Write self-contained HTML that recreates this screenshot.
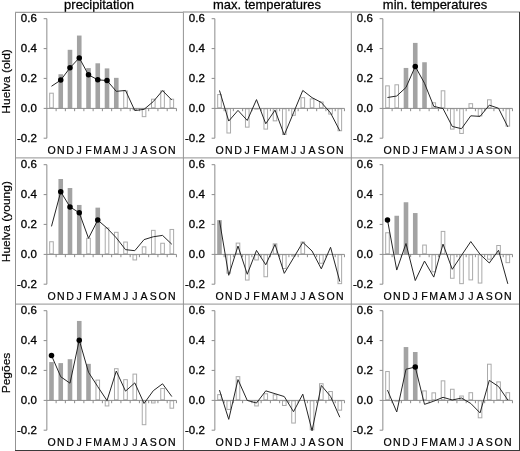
<!DOCTYPE html><html><head><meta charset="utf-8"><style>html,body{margin:0;padding:0;background:#fff;}svg{display:block;will-change:transform;}</style></head><body>
<svg width="520" height="451" viewBox="0 0 520 451" font-family='"Liberation Sans", sans-serif'>
<text transform="translate(99.0,9.4) scale(1.08,1)" font-size="12" text-anchor="middle" fill="#000" stroke="#000" stroke-width="0.25">precipitation</text>
<text transform="translate(267.0,9.4) scale(1.08,1)" font-size="12" text-anchor="middle" fill="#000" stroke="#000" stroke-width="0.25">max. temperatures</text>
<text transform="translate(435.0,9.4) scale(1.08,1)" font-size="12" text-anchor="middle" fill="#000" stroke="#000" stroke-width="0.25">min. temperatures</text>
<text transform="translate(10.3,81.4) rotate(-90) scale(1.07,1)" font-size="11.2" text-anchor="middle" fill="#000" stroke="#000" stroke-width="0.2">Huelva (old)</text>
<text transform="translate(10.3,221.7) rotate(-90) scale(1.07,1)" font-size="11.2" text-anchor="middle" fill="#000" stroke="#000" stroke-width="0.2">Huelva (young)</text>
<text transform="translate(10.3,373.0) rotate(-90) scale(1.07,1)" font-size="11.2" text-anchor="middle" fill="#000" stroke="#000" stroke-width="0.2">Pegões</text>
<g><path d="M46.85 18.70V138.20" stroke="#8c8c8c" stroke-width="1" fill="none"/><path d="M43.65 18.70H46.85" stroke="#8c8c8c" stroke-width="1"/><text transform="translate(36.8,22.1) scale(1.03,1)" font-size="11.2" text-anchor="end" fill="#000" stroke="#000" stroke-width="0.3">0.6</text><path d="M43.65 48.60H46.85" stroke="#8c8c8c" stroke-width="1"/><text transform="translate(36.8,52.0) scale(1.03,1)" font-size="11.2" text-anchor="end" fill="#000" stroke="#000" stroke-width="0.3">0.4</text><path d="M43.65 78.40H46.85" stroke="#8c8c8c" stroke-width="1"/><text transform="translate(36.8,81.8) scale(1.03,1)" font-size="11.2" text-anchor="end" fill="#000" stroke="#000" stroke-width="0.3">0.2</text><path d="M43.65 108.40H46.85" stroke="#8c8c8c" stroke-width="1"/><text transform="translate(36.8,111.8) scale(1.03,1)" font-size="11.2" text-anchor="end" fill="#000" stroke="#000" stroke-width="0.3">0.0</text><path d="M43.65 138.20H46.85" stroke="#8c8c8c" stroke-width="1"/><text transform="translate(36.8,141.6) scale(1.03,1)" font-size="11.2" text-anchor="end" fill="#000" stroke="#000" stroke-width="0.3">-0.2</text><rect x="49.68" y="93.20" width="3.60" height="14.60" fill="#fff" stroke="#aaaaaa" stroke-width="1"/><rect x="58.44" y="74.25" width="4.60" height="34.05" fill="#a3a3a3"/><rect x="67.69" y="49.80" width="4.60" height="58.50" fill="#a3a3a3"/><rect x="76.95" y="35.55" width="4.60" height="72.75" fill="#a3a3a3"/><rect x="86.21" y="68.10" width="4.60" height="40.20" fill="#a3a3a3"/><rect x="95.46" y="63.30" width="4.60" height="45.00" fill="#a3a3a3"/><rect x="104.72" y="68.40" width="4.60" height="39.90" fill="#a3a3a3"/><rect x="113.98" y="77.85" width="4.60" height="30.45" fill="#a3a3a3"/><rect x="123.73" y="90.95" width="3.60" height="16.85" fill="#fff" stroke="#aaaaaa" stroke-width="1"/><rect x="132.99" y="108.80" width="3.60" height="0.95" fill="#fff" stroke="#aaaaaa" stroke-width="1"/><rect x="142.25" y="108.80" width="3.60" height="7.85" fill="#fff" stroke="#aaaaaa" stroke-width="1"/><rect x="151.51" y="99.20" width="3.60" height="8.60" fill="#fff" stroke="#aaaaaa" stroke-width="1"/><rect x="160.76" y="90.80" width="3.60" height="17.00" fill="#fff" stroke="#aaaaaa" stroke-width="1"/><rect x="170.02" y="99.20" width="3.60" height="8.60" fill="#fff" stroke="#aaaaaa" stroke-width="1"/><path d="M46.85 108.40H176.45" stroke="#8c8c8c" stroke-width="1"/><path d="M56.11 108.40V111.20" stroke="#8c8c8c" stroke-width="1"/><path d="M65.36 108.40V111.20" stroke="#8c8c8c" stroke-width="1"/><path d="M74.62 108.40V111.20" stroke="#8c8c8c" stroke-width="1"/><path d="M83.88 108.40V111.20" stroke="#8c8c8c" stroke-width="1"/><path d="M93.13 108.40V111.20" stroke="#8c8c8c" stroke-width="1"/><path d="M102.39 108.40V111.20" stroke="#8c8c8c" stroke-width="1"/><path d="M111.65 108.40V111.20" stroke="#8c8c8c" stroke-width="1"/><path d="M120.91 108.40V111.20" stroke="#8c8c8c" stroke-width="1"/><path d="M130.16 108.40V111.20" stroke="#8c8c8c" stroke-width="1"/><path d="M139.42 108.40V111.20" stroke="#8c8c8c" stroke-width="1"/><path d="M148.68 108.40V111.20" stroke="#8c8c8c" stroke-width="1"/><path d="M157.93 108.40V111.20" stroke="#8c8c8c" stroke-width="1"/><path d="M167.19 108.40V111.20" stroke="#8c8c8c" stroke-width="1"/><path d="M176.45 108.40V111.20" stroke="#8c8c8c" stroke-width="1"/><polyline points="51.48,86.25 60.74,80.10 69.99,67.80 79.25,57.90 88.51,74.85 97.76,79.80 107.02,80.55 116.28,91.35 125.53,90.45 134.79,110.55 144.05,109.35 153.31,101.55 162.56,90.60 171.82,100.05" fill="none" stroke="#262626" stroke-width="1.0" stroke-linejoin="round"/><circle cx="60.74" cy="80.10" r="2.75" fill="#000"/><circle cx="69.99" cy="67.80" r="2.75" fill="#000"/><circle cx="79.25" cy="57.90" r="2.75" fill="#000"/><circle cx="88.51" cy="74.85" r="2.75" fill="#000"/><circle cx="97.76" cy="79.80" r="2.75" fill="#000"/><circle cx="107.02" cy="80.55" r="2.75" fill="#000"/><text transform="translate(51.48,153.8) scale(1.035,1)" font-size="10.2" text-anchor="middle" fill="#000" stroke="#000" stroke-width="0.2">O</text><text transform="translate(60.74,153.8) scale(1.035,1)" font-size="10.2" text-anchor="middle" fill="#000" stroke="#000" stroke-width="0.2">N</text><text transform="translate(69.99,153.8) scale(1.035,1)" font-size="10.2" text-anchor="middle" fill="#000" stroke="#000" stroke-width="0.2">D</text><text transform="translate(79.25,153.8) scale(1.035,1)" font-size="10.2" text-anchor="middle" fill="#000" stroke="#000" stroke-width="0.2">J</text><text transform="translate(88.51,153.8) scale(1.035,1)" font-size="10.2" text-anchor="middle" fill="#000" stroke="#000" stroke-width="0.2">F</text><text transform="translate(97.76,153.8) scale(1.035,1)" font-size="10.2" text-anchor="middle" fill="#000" stroke="#000" stroke-width="0.2">M</text><text transform="translate(107.02,153.8) scale(1.035,1)" font-size="10.2" text-anchor="middle" fill="#000" stroke="#000" stroke-width="0.2">A</text><text transform="translate(116.28,153.8) scale(1.035,1)" font-size="10.2" text-anchor="middle" fill="#000" stroke="#000" stroke-width="0.2">M</text><text transform="translate(125.53,153.8) scale(1.035,1)" font-size="10.2" text-anchor="middle" fill="#000" stroke="#000" stroke-width="0.2">J</text><text transform="translate(134.79,153.8) scale(1.035,1)" font-size="10.2" text-anchor="middle" fill="#000" stroke="#000" stroke-width="0.2">J</text><text transform="translate(144.05,153.8) scale(1.035,1)" font-size="10.2" text-anchor="middle" fill="#000" stroke="#000" stroke-width="0.2">A</text><text transform="translate(153.31,153.8) scale(1.035,1)" font-size="10.2" text-anchor="middle" fill="#000" stroke="#000" stroke-width="0.2">S</text><text transform="translate(162.56,153.8) scale(1.035,1)" font-size="10.2" text-anchor="middle" fill="#000" stroke="#000" stroke-width="0.2">O</text><text transform="translate(171.82,153.8) scale(1.035,1)" font-size="10.2" text-anchor="middle" fill="#000" stroke="#000" stroke-width="0.2">N</text></g>
<g><path d="M214.85 18.70V138.20" stroke="#8c8c8c" stroke-width="1" fill="none"/><path d="M211.65 18.70H214.85" stroke="#8c8c8c" stroke-width="1"/><text transform="translate(204.8,22.1) scale(1.03,1)" font-size="11.2" text-anchor="end" fill="#000" stroke="#000" stroke-width="0.3">0.6</text><path d="M211.65 48.60H214.85" stroke="#8c8c8c" stroke-width="1"/><text transform="translate(204.8,52.0) scale(1.03,1)" font-size="11.2" text-anchor="end" fill="#000" stroke="#000" stroke-width="0.3">0.4</text><path d="M211.65 78.40H214.85" stroke="#8c8c8c" stroke-width="1"/><text transform="translate(204.8,81.8) scale(1.03,1)" font-size="11.2" text-anchor="end" fill="#000" stroke="#000" stroke-width="0.3">0.2</text><path d="M211.65 108.40H214.85" stroke="#8c8c8c" stroke-width="1"/><text transform="translate(204.8,111.8) scale(1.03,1)" font-size="11.2" text-anchor="end" fill="#000" stroke="#000" stroke-width="0.3">0.0</text><path d="M211.65 138.20H214.85" stroke="#8c8c8c" stroke-width="1"/><text transform="translate(204.8,141.6) scale(1.03,1)" font-size="11.2" text-anchor="end" fill="#000" stroke="#000" stroke-width="0.3">-0.2</text><rect x="217.68" y="94.55" width="3.60" height="13.25" fill="#fff" stroke="#aaaaaa" stroke-width="1"/><rect x="226.94" y="108.80" width="3.60" height="24.20" fill="#fff" stroke="#aaaaaa" stroke-width="1"/><rect x="245.45" y="108.80" width="3.60" height="18.35" fill="#fff" stroke="#aaaaaa" stroke-width="1"/><rect x="254.71" y="108.80" width="3.60" height="0.30" fill="#fff" stroke="#aaaaaa" stroke-width="1"/><rect x="263.96" y="108.80" width="3.60" height="20.30" fill="#fff" stroke="#aaaaaa" stroke-width="1"/><rect x="273.22" y="108.80" width="3.60" height="12.05" fill="#fff" stroke="#aaaaaa" stroke-width="1"/><rect x="282.48" y="108.80" width="3.60" height="25.70" fill="#fff" stroke="#aaaaaa" stroke-width="1"/><rect x="291.73" y="108.80" width="3.60" height="6.50" fill="#fff" stroke="#aaaaaa" stroke-width="1"/><rect x="300.99" y="97.70" width="3.60" height="10.10" fill="#fff" stroke="#aaaaaa" stroke-width="1"/><rect x="310.25" y="98.90" width="3.60" height="8.90" fill="#fff" stroke="#aaaaaa" stroke-width="1"/><rect x="319.51" y="102.05" width="3.60" height="5.75" fill="#fff" stroke="#aaaaaa" stroke-width="1"/><rect x="328.76" y="108.80" width="3.60" height="5.30" fill="#fff" stroke="#aaaaaa" stroke-width="1"/><rect x="338.02" y="108.80" width="3.60" height="21.95" fill="#fff" stroke="#aaaaaa" stroke-width="1"/><path d="M214.85 108.40H344.45" stroke="#8c8c8c" stroke-width="1"/><path d="M224.11 108.40V111.20" stroke="#8c8c8c" stroke-width="1"/><path d="M233.36 108.40V111.20" stroke="#8c8c8c" stroke-width="1"/><path d="M242.62 108.40V111.20" stroke="#8c8c8c" stroke-width="1"/><path d="M251.88 108.40V111.20" stroke="#8c8c8c" stroke-width="1"/><path d="M261.13 108.40V111.20" stroke="#8c8c8c" stroke-width="1"/><path d="M270.39 108.40V111.20" stroke="#8c8c8c" stroke-width="1"/><path d="M279.65 108.40V111.20" stroke="#8c8c8c" stroke-width="1"/><path d="M288.91 108.40V111.20" stroke="#8c8c8c" stroke-width="1"/><path d="M298.16 108.40V111.20" stroke="#8c8c8c" stroke-width="1"/><path d="M307.42 108.40V111.20" stroke="#8c8c8c" stroke-width="1"/><path d="M316.68 108.40V111.20" stroke="#8c8c8c" stroke-width="1"/><path d="M325.93 108.40V111.20" stroke="#8c8c8c" stroke-width="1"/><path d="M335.19 108.40V111.20" stroke="#8c8c8c" stroke-width="1"/><path d="M344.45 108.40V111.20" stroke="#8c8c8c" stroke-width="1"/><polyline points="219.48,90.45 228.74,121.05 237.99,110.40 247.25,120.45 256.51,99.60 265.76,123.75 275.02,110.10 284.28,135.00 293.53,112.80 302.79,90.45 312.05,97.65 321.31,102.45 330.56,112.95 339.82,130.80" fill="none" stroke="#262626" stroke-width="1.0" stroke-linejoin="round"/><text transform="translate(219.48,153.8) scale(1.035,1)" font-size="10.2" text-anchor="middle" fill="#000" stroke="#000" stroke-width="0.2">O</text><text transform="translate(228.74,153.8) scale(1.035,1)" font-size="10.2" text-anchor="middle" fill="#000" stroke="#000" stroke-width="0.2">N</text><text transform="translate(237.99,153.8) scale(1.035,1)" font-size="10.2" text-anchor="middle" fill="#000" stroke="#000" stroke-width="0.2">D</text><text transform="translate(247.25,153.8) scale(1.035,1)" font-size="10.2" text-anchor="middle" fill="#000" stroke="#000" stroke-width="0.2">J</text><text transform="translate(256.51,153.8) scale(1.035,1)" font-size="10.2" text-anchor="middle" fill="#000" stroke="#000" stroke-width="0.2">F</text><text transform="translate(265.76,153.8) scale(1.035,1)" font-size="10.2" text-anchor="middle" fill="#000" stroke="#000" stroke-width="0.2">M</text><text transform="translate(275.02,153.8) scale(1.035,1)" font-size="10.2" text-anchor="middle" fill="#000" stroke="#000" stroke-width="0.2">A</text><text transform="translate(284.28,153.8) scale(1.035,1)" font-size="10.2" text-anchor="middle" fill="#000" stroke="#000" stroke-width="0.2">M</text><text transform="translate(293.53,153.8) scale(1.035,1)" font-size="10.2" text-anchor="middle" fill="#000" stroke="#000" stroke-width="0.2">J</text><text transform="translate(302.79,153.8) scale(1.035,1)" font-size="10.2" text-anchor="middle" fill="#000" stroke="#000" stroke-width="0.2">J</text><text transform="translate(312.05,153.8) scale(1.035,1)" font-size="10.2" text-anchor="middle" fill="#000" stroke="#000" stroke-width="0.2">A</text><text transform="translate(321.31,153.8) scale(1.035,1)" font-size="10.2" text-anchor="middle" fill="#000" stroke="#000" stroke-width="0.2">S</text><text transform="translate(330.56,153.8) scale(1.035,1)" font-size="10.2" text-anchor="middle" fill="#000" stroke="#000" stroke-width="0.2">O</text><text transform="translate(339.82,153.8) scale(1.035,1)" font-size="10.2" text-anchor="middle" fill="#000" stroke="#000" stroke-width="0.2">N</text></g>
<g><path d="M382.85 18.70V138.20" stroke="#8c8c8c" stroke-width="1" fill="none"/><path d="M379.65 18.70H382.85" stroke="#8c8c8c" stroke-width="1"/><text transform="translate(372.8,22.1) scale(1.03,1)" font-size="11.2" text-anchor="end" fill="#000" stroke="#000" stroke-width="0.3">0.6</text><path d="M379.65 48.60H382.85" stroke="#8c8c8c" stroke-width="1"/><text transform="translate(372.8,52.0) scale(1.03,1)" font-size="11.2" text-anchor="end" fill="#000" stroke="#000" stroke-width="0.3">0.4</text><path d="M379.65 78.40H382.85" stroke="#8c8c8c" stroke-width="1"/><text transform="translate(372.8,81.8) scale(1.03,1)" font-size="11.2" text-anchor="end" fill="#000" stroke="#000" stroke-width="0.3">0.2</text><path d="M379.65 108.40H382.85" stroke="#8c8c8c" stroke-width="1"/><text transform="translate(372.8,111.8) scale(1.03,1)" font-size="11.2" text-anchor="end" fill="#000" stroke="#000" stroke-width="0.3">0.0</text><path d="M379.65 138.20H382.85" stroke="#8c8c8c" stroke-width="1"/><text transform="translate(372.8,141.6) scale(1.03,1)" font-size="11.2" text-anchor="end" fill="#000" stroke="#000" stroke-width="0.3">-0.2</text><rect x="385.68" y="85.85" width="3.60" height="21.95" fill="#fff" stroke="#aaaaaa" stroke-width="1"/><rect x="394.94" y="84.80" width="3.60" height="23.00" fill="#fff" stroke="#aaaaaa" stroke-width="1"/><rect x="403.69" y="67.95" width="4.60" height="40.35" fill="#a3a3a3"/><rect x="412.95" y="42.90" width="4.60" height="65.40" fill="#a3a3a3"/><rect x="422.21" y="62.25" width="4.60" height="46.05" fill="#a3a3a3"/><rect x="431.96" y="102.80" width="3.60" height="5.00" fill="#fff" stroke="#aaaaaa" stroke-width="1"/><rect x="441.22" y="90.80" width="3.60" height="17.00" fill="#fff" stroke="#aaaaaa" stroke-width="1"/><rect x="450.48" y="108.80" width="3.60" height="20.30" fill="#fff" stroke="#aaaaaa" stroke-width="1"/><rect x="459.73" y="108.80" width="3.60" height="24.65" fill="#fff" stroke="#aaaaaa" stroke-width="1"/><rect x="468.99" y="103.70" width="3.60" height="4.10" fill="#fff" stroke="#aaaaaa" stroke-width="1"/><rect x="478.25" y="108.80" width="3.60" height="7.10" fill="#fff" stroke="#aaaaaa" stroke-width="1"/><rect x="487.51" y="99.80" width="3.60" height="8.00" fill="#fff" stroke="#aaaaaa" stroke-width="1"/><rect x="506.02" y="108.80" width="3.60" height="17.30" fill="#fff" stroke="#aaaaaa" stroke-width="1"/><path d="M382.85 108.40H512.45" stroke="#8c8c8c" stroke-width="1"/><path d="M392.11 108.40V111.20" stroke="#8c8c8c" stroke-width="1"/><path d="M401.36 108.40V111.20" stroke="#8c8c8c" stroke-width="1"/><path d="M410.62 108.40V111.20" stroke="#8c8c8c" stroke-width="1"/><path d="M419.88 108.40V111.20" stroke="#8c8c8c" stroke-width="1"/><path d="M429.13 108.40V111.20" stroke="#8c8c8c" stroke-width="1"/><path d="M438.39 108.40V111.20" stroke="#8c8c8c" stroke-width="1"/><path d="M447.65 108.40V111.20" stroke="#8c8c8c" stroke-width="1"/><path d="M456.91 108.40V111.20" stroke="#8c8c8c" stroke-width="1"/><path d="M466.16 108.40V111.20" stroke="#8c8c8c" stroke-width="1"/><path d="M475.42 108.40V111.20" stroke="#8c8c8c" stroke-width="1"/><path d="M484.68 108.40V111.20" stroke="#8c8c8c" stroke-width="1"/><path d="M493.93 108.40V111.20" stroke="#8c8c8c" stroke-width="1"/><path d="M503.19 108.40V111.20" stroke="#8c8c8c" stroke-width="1"/><path d="M512.45 108.40V111.20" stroke="#8c8c8c" stroke-width="1"/><polyline points="387.48,97.50 396.74,96.00 405.99,87.45 415.25,66.45 424.51,83.25 433.76,106.35 443.02,108.60 452.28,126.45 461.53,128.70 470.79,115.80 480.05,116.40 489.31,105.15 498.56,108.30 507.82,126.90" fill="none" stroke="#262626" stroke-width="1.0" stroke-linejoin="round"/><circle cx="415.25" cy="66.45" r="2.75" fill="#000"/><text transform="translate(387.48,153.8) scale(1.035,1)" font-size="10.2" text-anchor="middle" fill="#000" stroke="#000" stroke-width="0.2">O</text><text transform="translate(396.74,153.8) scale(1.035,1)" font-size="10.2" text-anchor="middle" fill="#000" stroke="#000" stroke-width="0.2">N</text><text transform="translate(405.99,153.8) scale(1.035,1)" font-size="10.2" text-anchor="middle" fill="#000" stroke="#000" stroke-width="0.2">D</text><text transform="translate(415.25,153.8) scale(1.035,1)" font-size="10.2" text-anchor="middle" fill="#000" stroke="#000" stroke-width="0.2">J</text><text transform="translate(424.51,153.8) scale(1.035,1)" font-size="10.2" text-anchor="middle" fill="#000" stroke="#000" stroke-width="0.2">F</text><text transform="translate(433.76,153.8) scale(1.035,1)" font-size="10.2" text-anchor="middle" fill="#000" stroke="#000" stroke-width="0.2">M</text><text transform="translate(443.02,153.8) scale(1.035,1)" font-size="10.2" text-anchor="middle" fill="#000" stroke="#000" stroke-width="0.2">A</text><text transform="translate(452.28,153.8) scale(1.035,1)" font-size="10.2" text-anchor="middle" fill="#000" stroke="#000" stroke-width="0.2">M</text><text transform="translate(461.53,153.8) scale(1.035,1)" font-size="10.2" text-anchor="middle" fill="#000" stroke="#000" stroke-width="0.2">J</text><text transform="translate(470.79,153.8) scale(1.035,1)" font-size="10.2" text-anchor="middle" fill="#000" stroke="#000" stroke-width="0.2">J</text><text transform="translate(480.05,153.8) scale(1.035,1)" font-size="10.2" text-anchor="middle" fill="#000" stroke="#000" stroke-width="0.2">A</text><text transform="translate(489.31,153.8) scale(1.035,1)" font-size="10.2" text-anchor="middle" fill="#000" stroke="#000" stroke-width="0.2">S</text><text transform="translate(498.56,153.8) scale(1.035,1)" font-size="10.2" text-anchor="middle" fill="#000" stroke="#000" stroke-width="0.2">O</text><text transform="translate(507.82,153.8) scale(1.035,1)" font-size="10.2" text-anchor="middle" fill="#000" stroke="#000" stroke-width="0.2">N</text></g>
<g><path d="M46.85 164.70V284.20" stroke="#8c8c8c" stroke-width="1" fill="none"/><path d="M43.65 164.70H46.85" stroke="#8c8c8c" stroke-width="1"/><text transform="translate(36.8,168.1) scale(1.03,1)" font-size="11.2" text-anchor="end" fill="#000" stroke="#000" stroke-width="0.3">0.6</text><path d="M43.65 194.60H46.85" stroke="#8c8c8c" stroke-width="1"/><text transform="translate(36.8,198.0) scale(1.03,1)" font-size="11.2" text-anchor="end" fill="#000" stroke="#000" stroke-width="0.3">0.4</text><path d="M43.65 224.40H46.85" stroke="#8c8c8c" stroke-width="1"/><text transform="translate(36.8,227.8) scale(1.03,1)" font-size="11.2" text-anchor="end" fill="#000" stroke="#000" stroke-width="0.3">0.2</text><path d="M43.65 254.40H46.85" stroke="#8c8c8c" stroke-width="1"/><text transform="translate(36.8,257.8) scale(1.03,1)" font-size="11.2" text-anchor="end" fill="#000" stroke="#000" stroke-width="0.3">0.0</text><path d="M43.65 284.20H46.85" stroke="#8c8c8c" stroke-width="1"/><text transform="translate(36.8,287.6) scale(1.03,1)" font-size="11.2" text-anchor="end" fill="#000" stroke="#000" stroke-width="0.3">-0.2</text><rect x="49.68" y="241.75" width="3.60" height="12.05" fill="#fff" stroke="#aaaaaa" stroke-width="1"/><rect x="58.44" y="179.00" width="4.60" height="75.30" fill="#a3a3a3"/><rect x="67.69" y="188.00" width="4.60" height="66.30" fill="#a3a3a3"/><rect x="76.95" y="204.95" width="4.60" height="49.35" fill="#a3a3a3"/><rect x="86.71" y="238.30" width="3.60" height="15.50" fill="#fff" stroke="#aaaaaa" stroke-width="1"/><rect x="95.46" y="207.65" width="4.60" height="46.65" fill="#a3a3a3"/><rect x="105.22" y="227.95" width="3.60" height="25.85" fill="#fff" stroke="#aaaaaa" stroke-width="1"/><rect x="114.48" y="232.30" width="3.60" height="21.50" fill="#fff" stroke="#aaaaaa" stroke-width="1"/><rect x="123.73" y="242.05" width="3.60" height="11.75" fill="#fff" stroke="#aaaaaa" stroke-width="1"/><rect x="132.99" y="254.80" width="3.60" height="5.15" fill="#fff" stroke="#aaaaaa" stroke-width="1"/><rect x="142.25" y="246.85" width="3.60" height="6.95" fill="#fff" stroke="#aaaaaa" stroke-width="1"/><rect x="151.51" y="230.35" width="3.60" height="23.45" fill="#fff" stroke="#aaaaaa" stroke-width="1"/><rect x="160.76" y="243.25" width="3.60" height="10.55" fill="#fff" stroke="#aaaaaa" stroke-width="1"/><rect x="170.02" y="229.45" width="3.60" height="24.35" fill="#fff" stroke="#aaaaaa" stroke-width="1"/><path d="M46.85 254.40H176.45" stroke="#8c8c8c" stroke-width="1"/><path d="M56.11 254.40V257.20" stroke="#8c8c8c" stroke-width="1"/><path d="M65.36 254.40V257.20" stroke="#8c8c8c" stroke-width="1"/><path d="M74.62 254.40V257.20" stroke="#8c8c8c" stroke-width="1"/><path d="M83.88 254.40V257.20" stroke="#8c8c8c" stroke-width="1"/><path d="M93.13 254.40V257.20" stroke="#8c8c8c" stroke-width="1"/><path d="M102.39 254.40V257.20" stroke="#8c8c8c" stroke-width="1"/><path d="M111.65 254.40V257.20" stroke="#8c8c8c" stroke-width="1"/><path d="M120.91 254.40V257.20" stroke="#8c8c8c" stroke-width="1"/><path d="M130.16 254.40V257.20" stroke="#8c8c8c" stroke-width="1"/><path d="M139.42 254.40V257.20" stroke="#8c8c8c" stroke-width="1"/><path d="M148.68 254.40V257.20" stroke="#8c8c8c" stroke-width="1"/><path d="M157.93 254.40V257.20" stroke="#8c8c8c" stroke-width="1"/><path d="M167.19 254.40V257.20" stroke="#8c8c8c" stroke-width="1"/><path d="M176.45 254.40V257.20" stroke="#8c8c8c" stroke-width="1"/><polyline points="51.48,226.40 60.74,191.75 69.99,206.90 79.25,212.75 88.51,238.25 97.76,220.10 107.02,228.05 116.28,237.80 125.53,249.65 134.79,250.70 144.05,239.60 153.31,236.75 162.56,235.40 171.82,244.25" fill="none" stroke="#262626" stroke-width="1.0" stroke-linejoin="round"/><circle cx="60.74" cy="191.75" r="2.75" fill="#000"/><circle cx="69.99" cy="206.90" r="2.75" fill="#000"/><circle cx="79.25" cy="212.75" r="2.75" fill="#000"/><circle cx="97.76" cy="220.10" r="2.75" fill="#000"/><text transform="translate(51.48,299.8) scale(1.035,1)" font-size="10.2" text-anchor="middle" fill="#000" stroke="#000" stroke-width="0.2">O</text><text transform="translate(60.74,299.8) scale(1.035,1)" font-size="10.2" text-anchor="middle" fill="#000" stroke="#000" stroke-width="0.2">N</text><text transform="translate(69.99,299.8) scale(1.035,1)" font-size="10.2" text-anchor="middle" fill="#000" stroke="#000" stroke-width="0.2">D</text><text transform="translate(79.25,299.8) scale(1.035,1)" font-size="10.2" text-anchor="middle" fill="#000" stroke="#000" stroke-width="0.2">J</text><text transform="translate(88.51,299.8) scale(1.035,1)" font-size="10.2" text-anchor="middle" fill="#000" stroke="#000" stroke-width="0.2">F</text><text transform="translate(97.76,299.8) scale(1.035,1)" font-size="10.2" text-anchor="middle" fill="#000" stroke="#000" stroke-width="0.2">M</text><text transform="translate(107.02,299.8) scale(1.035,1)" font-size="10.2" text-anchor="middle" fill="#000" stroke="#000" stroke-width="0.2">A</text><text transform="translate(116.28,299.8) scale(1.035,1)" font-size="10.2" text-anchor="middle" fill="#000" stroke="#000" stroke-width="0.2">M</text><text transform="translate(125.53,299.8) scale(1.035,1)" font-size="10.2" text-anchor="middle" fill="#000" stroke="#000" stroke-width="0.2">J</text><text transform="translate(134.79,299.8) scale(1.035,1)" font-size="10.2" text-anchor="middle" fill="#000" stroke="#000" stroke-width="0.2">J</text><text transform="translate(144.05,299.8) scale(1.035,1)" font-size="10.2" text-anchor="middle" fill="#000" stroke="#000" stroke-width="0.2">A</text><text transform="translate(153.31,299.8) scale(1.035,1)" font-size="10.2" text-anchor="middle" fill="#000" stroke="#000" stroke-width="0.2">S</text><text transform="translate(162.56,299.8) scale(1.035,1)" font-size="10.2" text-anchor="middle" fill="#000" stroke="#000" stroke-width="0.2">O</text><text transform="translate(171.82,299.8) scale(1.035,1)" font-size="10.2" text-anchor="middle" fill="#000" stroke="#000" stroke-width="0.2">N</text></g>
<g><path d="M214.85 164.70V284.20" stroke="#8c8c8c" stroke-width="1" fill="none"/><path d="M211.65 164.70H214.85" stroke="#8c8c8c" stroke-width="1"/><text transform="translate(204.8,168.1) scale(1.03,1)" font-size="11.2" text-anchor="end" fill="#000" stroke="#000" stroke-width="0.3">0.6</text><path d="M211.65 194.60H214.85" stroke="#8c8c8c" stroke-width="1"/><text transform="translate(204.8,198.0) scale(1.03,1)" font-size="11.2" text-anchor="end" fill="#000" stroke="#000" stroke-width="0.3">0.4</text><path d="M211.65 224.40H214.85" stroke="#8c8c8c" stroke-width="1"/><text transform="translate(204.8,227.8) scale(1.03,1)" font-size="11.2" text-anchor="end" fill="#000" stroke="#000" stroke-width="0.3">0.2</text><path d="M211.65 254.40H214.85" stroke="#8c8c8c" stroke-width="1"/><text transform="translate(204.8,257.8) scale(1.03,1)" font-size="11.2" text-anchor="end" fill="#000" stroke="#000" stroke-width="0.3">0.0</text><path d="M211.65 284.20H214.85" stroke="#8c8c8c" stroke-width="1"/><text transform="translate(204.8,287.6) scale(1.03,1)" font-size="11.2" text-anchor="end" fill="#000" stroke="#000" stroke-width="0.3">-0.2</text><rect x="217.18" y="220.10" width="4.60" height="34.20" fill="#a3a3a3"/><rect x="226.94" y="254.80" width="3.60" height="18.35" fill="#fff" stroke="#aaaaaa" stroke-width="1"/><rect x="236.19" y="243.10" width="3.60" height="10.70" fill="#fff" stroke="#aaaaaa" stroke-width="1"/><rect x="245.45" y="254.80" width="3.60" height="25.25" fill="#fff" stroke="#aaaaaa" stroke-width="1"/><rect x="254.71" y="254.80" width="3.60" height="5.15" fill="#fff" stroke="#aaaaaa" stroke-width="1"/><rect x="263.96" y="254.80" width="3.60" height="21.95" fill="#fff" stroke="#aaaaaa" stroke-width="1"/><rect x="273.22" y="243.85" width="3.60" height="9.95" fill="#fff" stroke="#aaaaaa" stroke-width="1"/><rect x="282.48" y="254.80" width="3.60" height="13.70" fill="#fff" stroke="#aaaaaa" stroke-width="1"/><rect x="291.73" y="254.80" width="3.60" height="1.25" fill="#fff" stroke="#aaaaaa" stroke-width="1"/><rect x="300.99" y="242.05" width="3.60" height="11.75" fill="#fff" stroke="#aaaaaa" stroke-width="1"/><rect x="319.51" y="254.80" width="3.60" height="8.45" fill="#fff" stroke="#aaaaaa" stroke-width="1"/><rect x="338.02" y="254.80" width="3.60" height="28.85" fill="#fff" stroke="#aaaaaa" stroke-width="1"/><path d="M214.85 254.40H344.45" stroke="#8c8c8c" stroke-width="1"/><path d="M224.11 254.40V257.20" stroke="#8c8c8c" stroke-width="1"/><path d="M233.36 254.40V257.20" stroke="#8c8c8c" stroke-width="1"/><path d="M242.62 254.40V257.20" stroke="#8c8c8c" stroke-width="1"/><path d="M251.88 254.40V257.20" stroke="#8c8c8c" stroke-width="1"/><path d="M261.13 254.40V257.20" stroke="#8c8c8c" stroke-width="1"/><path d="M270.39 254.40V257.20" stroke="#8c8c8c" stroke-width="1"/><path d="M279.65 254.40V257.20" stroke="#8c8c8c" stroke-width="1"/><path d="M288.91 254.40V257.20" stroke="#8c8c8c" stroke-width="1"/><path d="M298.16 254.40V257.20" stroke="#8c8c8c" stroke-width="1"/><path d="M307.42 254.40V257.20" stroke="#8c8c8c" stroke-width="1"/><path d="M316.68 254.40V257.20" stroke="#8c8c8c" stroke-width="1"/><path d="M325.93 254.40V257.20" stroke="#8c8c8c" stroke-width="1"/><path d="M335.19 254.40V257.20" stroke="#8c8c8c" stroke-width="1"/><path d="M344.45 254.40V257.20" stroke="#8c8c8c" stroke-width="1"/><polyline points="219.48,220.55 228.74,275.30 237.99,246.05 247.25,274.25 256.51,250.40 265.76,264.80 275.02,244.40 284.28,273.35 293.53,257.90 302.79,242.30 312.05,251.00 321.31,268.85 330.56,247.25 339.82,281.60" fill="none" stroke="#262626" stroke-width="1.0" stroke-linejoin="round"/><text transform="translate(219.48,299.8) scale(1.035,1)" font-size="10.2" text-anchor="middle" fill="#000" stroke="#000" stroke-width="0.2">O</text><text transform="translate(228.74,299.8) scale(1.035,1)" font-size="10.2" text-anchor="middle" fill="#000" stroke="#000" stroke-width="0.2">N</text><text transform="translate(237.99,299.8) scale(1.035,1)" font-size="10.2" text-anchor="middle" fill="#000" stroke="#000" stroke-width="0.2">D</text><text transform="translate(247.25,299.8) scale(1.035,1)" font-size="10.2" text-anchor="middle" fill="#000" stroke="#000" stroke-width="0.2">J</text><text transform="translate(256.51,299.8) scale(1.035,1)" font-size="10.2" text-anchor="middle" fill="#000" stroke="#000" stroke-width="0.2">F</text><text transform="translate(265.76,299.8) scale(1.035,1)" font-size="10.2" text-anchor="middle" fill="#000" stroke="#000" stroke-width="0.2">M</text><text transform="translate(275.02,299.8) scale(1.035,1)" font-size="10.2" text-anchor="middle" fill="#000" stroke="#000" stroke-width="0.2">A</text><text transform="translate(284.28,299.8) scale(1.035,1)" font-size="10.2" text-anchor="middle" fill="#000" stroke="#000" stroke-width="0.2">M</text><text transform="translate(293.53,299.8) scale(1.035,1)" font-size="10.2" text-anchor="middle" fill="#000" stroke="#000" stroke-width="0.2">J</text><text transform="translate(302.79,299.8) scale(1.035,1)" font-size="10.2" text-anchor="middle" fill="#000" stroke="#000" stroke-width="0.2">J</text><text transform="translate(312.05,299.8) scale(1.035,1)" font-size="10.2" text-anchor="middle" fill="#000" stroke="#000" stroke-width="0.2">A</text><text transform="translate(321.31,299.8) scale(1.035,1)" font-size="10.2" text-anchor="middle" fill="#000" stroke="#000" stroke-width="0.2">S</text><text transform="translate(330.56,299.8) scale(1.035,1)" font-size="10.2" text-anchor="middle" fill="#000" stroke="#000" stroke-width="0.2">O</text><text transform="translate(339.82,299.8) scale(1.035,1)" font-size="10.2" text-anchor="middle" fill="#000" stroke="#000" stroke-width="0.2">N</text></g>
<g><path d="M382.85 164.70V284.20" stroke="#8c8c8c" stroke-width="1" fill="none"/><path d="M379.65 164.70H382.85" stroke="#8c8c8c" stroke-width="1"/><text transform="translate(372.8,168.1) scale(1.03,1)" font-size="11.2" text-anchor="end" fill="#000" stroke="#000" stroke-width="0.3">0.6</text><path d="M379.65 194.60H382.85" stroke="#8c8c8c" stroke-width="1"/><text transform="translate(372.8,198.0) scale(1.03,1)" font-size="11.2" text-anchor="end" fill="#000" stroke="#000" stroke-width="0.3">0.4</text><path d="M379.65 224.40H382.85" stroke="#8c8c8c" stroke-width="1"/><text transform="translate(372.8,227.8) scale(1.03,1)" font-size="11.2" text-anchor="end" fill="#000" stroke="#000" stroke-width="0.3">0.2</text><path d="M379.65 254.40H382.85" stroke="#8c8c8c" stroke-width="1"/><text transform="translate(372.8,257.8) scale(1.03,1)" font-size="11.2" text-anchor="end" fill="#000" stroke="#000" stroke-width="0.3">0.0</text><path d="M379.65 284.20H382.85" stroke="#8c8c8c" stroke-width="1"/><text transform="translate(372.8,287.6) scale(1.03,1)" font-size="11.2" text-anchor="end" fill="#000" stroke="#000" stroke-width="0.3">-0.2</text><rect x="385.68" y="232.75" width="3.60" height="21.05" fill="#fff" stroke="#aaaaaa" stroke-width="1"/><rect x="394.44" y="215.75" width="4.60" height="38.55" fill="#a3a3a3"/><rect x="403.69" y="202.25" width="4.60" height="52.05" fill="#a3a3a3"/><rect x="412.95" y="213.05" width="4.60" height="41.25" fill="#a3a3a3"/><rect x="422.71" y="245.05" width="3.60" height="8.75" fill="#fff" stroke="#aaaaaa" stroke-width="1"/><rect x="431.96" y="254.80" width="3.60" height="17.00" fill="#fff" stroke="#aaaaaa" stroke-width="1"/><rect x="441.22" y="231.40" width="3.60" height="22.40" fill="#fff" stroke="#aaaaaa" stroke-width="1"/><rect x="450.48" y="254.80" width="3.60" height="23.45" fill="#fff" stroke="#aaaaaa" stroke-width="1"/><rect x="459.73" y="254.80" width="3.60" height="28.85" fill="#fff" stroke="#aaaaaa" stroke-width="1"/><rect x="468.99" y="254.80" width="3.60" height="25.10" fill="#fff" stroke="#aaaaaa" stroke-width="1"/><rect x="478.25" y="254.80" width="3.60" height="28.25" fill="#fff" stroke="#aaaaaa" stroke-width="1"/><rect x="487.51" y="254.80" width="3.60" height="4.40" fill="#fff" stroke="#aaaaaa" stroke-width="1"/><rect x="496.76" y="245.50" width="3.60" height="8.30" fill="#fff" stroke="#aaaaaa" stroke-width="1"/><rect x="506.02" y="254.80" width="3.60" height="7.85" fill="#fff" stroke="#aaaaaa" stroke-width="1"/><path d="M382.85 254.40H512.45" stroke="#8c8c8c" stroke-width="1"/><path d="M392.11 254.40V257.20" stroke="#8c8c8c" stroke-width="1"/><path d="M401.36 254.40V257.20" stroke="#8c8c8c" stroke-width="1"/><path d="M410.62 254.40V257.20" stroke="#8c8c8c" stroke-width="1"/><path d="M419.88 254.40V257.20" stroke="#8c8c8c" stroke-width="1"/><path d="M429.13 254.40V257.20" stroke="#8c8c8c" stroke-width="1"/><path d="M438.39 254.40V257.20" stroke="#8c8c8c" stroke-width="1"/><path d="M447.65 254.40V257.20" stroke="#8c8c8c" stroke-width="1"/><path d="M456.91 254.40V257.20" stroke="#8c8c8c" stroke-width="1"/><path d="M466.16 254.40V257.20" stroke="#8c8c8c" stroke-width="1"/><path d="M475.42 254.40V257.20" stroke="#8c8c8c" stroke-width="1"/><path d="M484.68 254.40V257.20" stroke="#8c8c8c" stroke-width="1"/><path d="M493.93 254.40V257.20" stroke="#8c8c8c" stroke-width="1"/><path d="M503.19 254.40V257.20" stroke="#8c8c8c" stroke-width="1"/><path d="M512.45 254.40V257.20" stroke="#8c8c8c" stroke-width="1"/><polyline points="387.48,219.95 396.74,270.05 405.99,243.50 415.25,280.55 424.51,261.05 433.76,277.10 443.02,244.10 452.28,269.30 461.53,255.35 470.79,241.55 480.05,254.30 489.31,263.00 498.56,250.25 507.82,283.85" fill="none" stroke="#262626" stroke-width="1.0" stroke-linejoin="round"/><circle cx="387.48" cy="219.95" r="2.75" fill="#000"/><text transform="translate(387.48,299.8) scale(1.035,1)" font-size="10.2" text-anchor="middle" fill="#000" stroke="#000" stroke-width="0.2">O</text><text transform="translate(396.74,299.8) scale(1.035,1)" font-size="10.2" text-anchor="middle" fill="#000" stroke="#000" stroke-width="0.2">N</text><text transform="translate(405.99,299.8) scale(1.035,1)" font-size="10.2" text-anchor="middle" fill="#000" stroke="#000" stroke-width="0.2">D</text><text transform="translate(415.25,299.8) scale(1.035,1)" font-size="10.2" text-anchor="middle" fill="#000" stroke="#000" stroke-width="0.2">J</text><text transform="translate(424.51,299.8) scale(1.035,1)" font-size="10.2" text-anchor="middle" fill="#000" stroke="#000" stroke-width="0.2">F</text><text transform="translate(433.76,299.8) scale(1.035,1)" font-size="10.2" text-anchor="middle" fill="#000" stroke="#000" stroke-width="0.2">M</text><text transform="translate(443.02,299.8) scale(1.035,1)" font-size="10.2" text-anchor="middle" fill="#000" stroke="#000" stroke-width="0.2">A</text><text transform="translate(452.28,299.8) scale(1.035,1)" font-size="10.2" text-anchor="middle" fill="#000" stroke="#000" stroke-width="0.2">M</text><text transform="translate(461.53,299.8) scale(1.035,1)" font-size="10.2" text-anchor="middle" fill="#000" stroke="#000" stroke-width="0.2">J</text><text transform="translate(470.79,299.8) scale(1.035,1)" font-size="10.2" text-anchor="middle" fill="#000" stroke="#000" stroke-width="0.2">J</text><text transform="translate(480.05,299.8) scale(1.035,1)" font-size="10.2" text-anchor="middle" fill="#000" stroke="#000" stroke-width="0.2">A</text><text transform="translate(489.31,299.8) scale(1.035,1)" font-size="10.2" text-anchor="middle" fill="#000" stroke="#000" stroke-width="0.2">S</text><text transform="translate(498.56,299.8) scale(1.035,1)" font-size="10.2" text-anchor="middle" fill="#000" stroke="#000" stroke-width="0.2">O</text><text transform="translate(507.82,299.8) scale(1.035,1)" font-size="10.2" text-anchor="middle" fill="#000" stroke="#000" stroke-width="0.2">N</text></g>
<g><path d="M46.85 310.70V430.20" stroke="#8c8c8c" stroke-width="1" fill="none"/><path d="M43.65 310.70H46.85" stroke="#8c8c8c" stroke-width="1"/><text transform="translate(36.8,314.1) scale(1.03,1)" font-size="11.2" text-anchor="end" fill="#000" stroke="#000" stroke-width="0.3">0.6</text><path d="M43.65 340.60H46.85" stroke="#8c8c8c" stroke-width="1"/><text transform="translate(36.8,344.0) scale(1.03,1)" font-size="11.2" text-anchor="end" fill="#000" stroke="#000" stroke-width="0.3">0.4</text><path d="M43.65 370.40H46.85" stroke="#8c8c8c" stroke-width="1"/><text transform="translate(36.8,373.8) scale(1.03,1)" font-size="11.2" text-anchor="end" fill="#000" stroke="#000" stroke-width="0.3">0.2</text><path d="M43.65 400.40H46.85" stroke="#8c8c8c" stroke-width="1"/><text transform="translate(36.8,403.8) scale(1.03,1)" font-size="11.2" text-anchor="end" fill="#000" stroke="#000" stroke-width="0.3">0.0</text><path d="M43.65 430.20H46.85" stroke="#8c8c8c" stroke-width="1"/><text transform="translate(36.8,433.6) scale(1.03,1)" font-size="11.2" text-anchor="end" fill="#000" stroke="#000" stroke-width="0.3">-0.2</text><rect x="49.18" y="362.05" width="4.60" height="38.25" fill="#a3a3a3"/><rect x="58.44" y="363.10" width="4.60" height="37.20" fill="#a3a3a3"/><rect x="67.69" y="359.20" width="4.60" height="41.10" fill="#a3a3a3"/><rect x="76.95" y="320.95" width="4.60" height="79.35" fill="#a3a3a3"/><rect x="86.21" y="363.85" width="4.60" height="36.45" fill="#a3a3a3"/><rect x="95.96" y="380.10" width="3.60" height="19.70" fill="#fff" stroke="#aaaaaa" stroke-width="1"/><rect x="105.22" y="400.80" width="3.60" height="5.15" fill="#fff" stroke="#aaaaaa" stroke-width="1"/><rect x="114.48" y="368.70" width="3.60" height="31.10" fill="#fff" stroke="#aaaaaa" stroke-width="1"/><rect x="123.73" y="379.65" width="3.60" height="20.15" fill="#fff" stroke="#aaaaaa" stroke-width="1"/><rect x="132.99" y="374.10" width="3.60" height="25.70" fill="#fff" stroke="#aaaaaa" stroke-width="1"/><rect x="142.25" y="400.80" width="3.60" height="23.90" fill="#fff" stroke="#aaaaaa" stroke-width="1"/><rect x="151.51" y="400.80" width="3.60" height="2.15" fill="#fff" stroke="#aaaaaa" stroke-width="1"/><rect x="160.76" y="388.50" width="3.60" height="11.30" fill="#fff" stroke="#aaaaaa" stroke-width="1"/><rect x="170.02" y="400.80" width="3.60" height="7.40" fill="#fff" stroke="#aaaaaa" stroke-width="1"/><path d="M46.85 400.40H176.45" stroke="#8c8c8c" stroke-width="1"/><path d="M56.11 400.40V403.20" stroke="#8c8c8c" stroke-width="1"/><path d="M65.36 400.40V403.20" stroke="#8c8c8c" stroke-width="1"/><path d="M74.62 400.40V403.20" stroke="#8c8c8c" stroke-width="1"/><path d="M83.88 400.40V403.20" stroke="#8c8c8c" stroke-width="1"/><path d="M93.13 400.40V403.20" stroke="#8c8c8c" stroke-width="1"/><path d="M102.39 400.40V403.20" stroke="#8c8c8c" stroke-width="1"/><path d="M111.65 400.40V403.20" stroke="#8c8c8c" stroke-width="1"/><path d="M120.91 400.40V403.20" stroke="#8c8c8c" stroke-width="1"/><path d="M130.16 400.40V403.20" stroke="#8c8c8c" stroke-width="1"/><path d="M139.42 400.40V403.20" stroke="#8c8c8c" stroke-width="1"/><path d="M148.68 400.40V403.20" stroke="#8c8c8c" stroke-width="1"/><path d="M157.93 400.40V403.20" stroke="#8c8c8c" stroke-width="1"/><path d="M167.19 400.40V403.20" stroke="#8c8c8c" stroke-width="1"/><path d="M176.45 400.40V403.20" stroke="#8c8c8c" stroke-width="1"/><polyline points="51.48,355.45 60.74,376.75 69.99,383.20 79.25,340.15 88.51,372.25 97.76,386.65 107.02,400.60 116.28,371.05 125.53,391.15 134.79,382.90 144.05,403.45 153.31,390.70 162.56,383.80 171.82,396.55" fill="none" stroke="#262626" stroke-width="1.0" stroke-linejoin="round"/><circle cx="51.48" cy="355.45" r="2.75" fill="#000"/><circle cx="79.25" cy="340.15" r="2.75" fill="#000"/><text transform="translate(51.48,445.8) scale(1.035,1)" font-size="10.2" text-anchor="middle" fill="#000" stroke="#000" stroke-width="0.2">O</text><text transform="translate(60.74,445.8) scale(1.035,1)" font-size="10.2" text-anchor="middle" fill="#000" stroke="#000" stroke-width="0.2">N</text><text transform="translate(69.99,445.8) scale(1.035,1)" font-size="10.2" text-anchor="middle" fill="#000" stroke="#000" stroke-width="0.2">D</text><text transform="translate(79.25,445.8) scale(1.035,1)" font-size="10.2" text-anchor="middle" fill="#000" stroke="#000" stroke-width="0.2">J</text><text transform="translate(88.51,445.8) scale(1.035,1)" font-size="10.2" text-anchor="middle" fill="#000" stroke="#000" stroke-width="0.2">F</text><text transform="translate(97.76,445.8) scale(1.035,1)" font-size="10.2" text-anchor="middle" fill="#000" stroke="#000" stroke-width="0.2">M</text><text transform="translate(107.02,445.8) scale(1.035,1)" font-size="10.2" text-anchor="middle" fill="#000" stroke="#000" stroke-width="0.2">A</text><text transform="translate(116.28,445.8) scale(1.035,1)" font-size="10.2" text-anchor="middle" fill="#000" stroke="#000" stroke-width="0.2">M</text><text transform="translate(125.53,445.8) scale(1.035,1)" font-size="10.2" text-anchor="middle" fill="#000" stroke="#000" stroke-width="0.2">J</text><text transform="translate(134.79,445.8) scale(1.035,1)" font-size="10.2" text-anchor="middle" fill="#000" stroke="#000" stroke-width="0.2">J</text><text transform="translate(144.05,445.8) scale(1.035,1)" font-size="10.2" text-anchor="middle" fill="#000" stroke="#000" stroke-width="0.2">A</text><text transform="translate(153.31,445.8) scale(1.035,1)" font-size="10.2" text-anchor="middle" fill="#000" stroke="#000" stroke-width="0.2">S</text><text transform="translate(162.56,445.8) scale(1.035,1)" font-size="10.2" text-anchor="middle" fill="#000" stroke="#000" stroke-width="0.2">O</text><text transform="translate(171.82,445.8) scale(1.035,1)" font-size="10.2" text-anchor="middle" fill="#000" stroke="#000" stroke-width="0.2">N</text></g>
<g><path d="M214.85 310.70V430.20" stroke="#8c8c8c" stroke-width="1" fill="none"/><path d="M211.65 310.70H214.85" stroke="#8c8c8c" stroke-width="1"/><text transform="translate(204.8,314.1) scale(1.03,1)" font-size="11.2" text-anchor="end" fill="#000" stroke="#000" stroke-width="0.3">0.6</text><path d="M211.65 340.60H214.85" stroke="#8c8c8c" stroke-width="1"/><text transform="translate(204.8,344.0) scale(1.03,1)" font-size="11.2" text-anchor="end" fill="#000" stroke="#000" stroke-width="0.3">0.4</text><path d="M211.65 370.40H214.85" stroke="#8c8c8c" stroke-width="1"/><text transform="translate(204.8,373.8) scale(1.03,1)" font-size="11.2" text-anchor="end" fill="#000" stroke="#000" stroke-width="0.3">0.2</text><path d="M211.65 400.40H214.85" stroke="#8c8c8c" stroke-width="1"/><text transform="translate(204.8,403.8) scale(1.03,1)" font-size="11.2" text-anchor="end" fill="#000" stroke="#000" stroke-width="0.3">0.0</text><path d="M211.65 430.20H214.85" stroke="#8c8c8c" stroke-width="1"/><text transform="translate(204.8,433.6) scale(1.03,1)" font-size="11.2" text-anchor="end" fill="#000" stroke="#000" stroke-width="0.3">-0.2</text><rect x="217.68" y="394.65" width="3.60" height="5.15" fill="#fff" stroke="#aaaaaa" stroke-width="1"/><rect x="226.94" y="400.80" width="3.60" height="8.60" fill="#fff" stroke="#aaaaaa" stroke-width="1"/><rect x="236.19" y="376.65" width="3.60" height="23.15" fill="#fff" stroke="#aaaaaa" stroke-width="1"/><rect x="254.71" y="400.80" width="3.60" height="5.15" fill="#fff" stroke="#aaaaaa" stroke-width="1"/><rect x="263.96" y="393.75" width="3.60" height="6.05" fill="#fff" stroke="#aaaaaa" stroke-width="1"/><rect x="273.22" y="394.80" width="3.60" height="5.00" fill="#fff" stroke="#aaaaaa" stroke-width="1"/><rect x="282.48" y="400.80" width="3.60" height="4.70" fill="#fff" stroke="#aaaaaa" stroke-width="1"/><rect x="291.73" y="400.80" width="3.60" height="22.25" fill="#fff" stroke="#aaaaaa" stroke-width="1"/><rect x="310.25" y="400.80" width="3.60" height="29.00" fill="#fff" stroke="#aaaaaa" stroke-width="1"/><rect x="319.51" y="383.70" width="3.60" height="16.10" fill="#fff" stroke="#aaaaaa" stroke-width="1"/><rect x="328.76" y="391.50" width="3.60" height="8.30" fill="#fff" stroke="#aaaaaa" stroke-width="1"/><rect x="338.02" y="400.80" width="3.60" height="9.35" fill="#fff" stroke="#aaaaaa" stroke-width="1"/><path d="M214.85 400.40H344.45" stroke="#8c8c8c" stroke-width="1"/><path d="M224.11 400.40V403.20" stroke="#8c8c8c" stroke-width="1"/><path d="M233.36 400.40V403.20" stroke="#8c8c8c" stroke-width="1"/><path d="M242.62 400.40V403.20" stroke="#8c8c8c" stroke-width="1"/><path d="M251.88 400.40V403.20" stroke="#8c8c8c" stroke-width="1"/><path d="M261.13 400.40V403.20" stroke="#8c8c8c" stroke-width="1"/><path d="M270.39 400.40V403.20" stroke="#8c8c8c" stroke-width="1"/><path d="M279.65 400.40V403.20" stroke="#8c8c8c" stroke-width="1"/><path d="M288.91 400.40V403.20" stroke="#8c8c8c" stroke-width="1"/><path d="M298.16 400.40V403.20" stroke="#8c8c8c" stroke-width="1"/><path d="M307.42 400.40V403.20" stroke="#8c8c8c" stroke-width="1"/><path d="M316.68 400.40V403.20" stroke="#8c8c8c" stroke-width="1"/><path d="M325.93 400.40V403.20" stroke="#8c8c8c" stroke-width="1"/><path d="M335.19 400.40V403.20" stroke="#8c8c8c" stroke-width="1"/><path d="M344.45 400.40V403.20" stroke="#8c8c8c" stroke-width="1"/><polyline points="219.48,390.10 228.74,419.35 237.99,379.60 247.25,400.45 256.51,403.00 265.76,390.85 275.02,393.70 284.28,396.55 293.53,411.70 302.79,394.15 312.05,430.75 321.31,385.45 330.56,396.40 339.82,417.25" fill="none" stroke="#262626" stroke-width="1.0" stroke-linejoin="round"/><text transform="translate(219.48,445.8) scale(1.035,1)" font-size="10.2" text-anchor="middle" fill="#000" stroke="#000" stroke-width="0.2">O</text><text transform="translate(228.74,445.8) scale(1.035,1)" font-size="10.2" text-anchor="middle" fill="#000" stroke="#000" stroke-width="0.2">N</text><text transform="translate(237.99,445.8) scale(1.035,1)" font-size="10.2" text-anchor="middle" fill="#000" stroke="#000" stroke-width="0.2">D</text><text transform="translate(247.25,445.8) scale(1.035,1)" font-size="10.2" text-anchor="middle" fill="#000" stroke="#000" stroke-width="0.2">J</text><text transform="translate(256.51,445.8) scale(1.035,1)" font-size="10.2" text-anchor="middle" fill="#000" stroke="#000" stroke-width="0.2">F</text><text transform="translate(265.76,445.8) scale(1.035,1)" font-size="10.2" text-anchor="middle" fill="#000" stroke="#000" stroke-width="0.2">M</text><text transform="translate(275.02,445.8) scale(1.035,1)" font-size="10.2" text-anchor="middle" fill="#000" stroke="#000" stroke-width="0.2">A</text><text transform="translate(284.28,445.8) scale(1.035,1)" font-size="10.2" text-anchor="middle" fill="#000" stroke="#000" stroke-width="0.2">M</text><text transform="translate(293.53,445.8) scale(1.035,1)" font-size="10.2" text-anchor="middle" fill="#000" stroke="#000" stroke-width="0.2">J</text><text transform="translate(302.79,445.8) scale(1.035,1)" font-size="10.2" text-anchor="middle" fill="#000" stroke="#000" stroke-width="0.2">J</text><text transform="translate(312.05,445.8) scale(1.035,1)" font-size="10.2" text-anchor="middle" fill="#000" stroke="#000" stroke-width="0.2">A</text><text transform="translate(321.31,445.8) scale(1.035,1)" font-size="10.2" text-anchor="middle" fill="#000" stroke="#000" stroke-width="0.2">S</text><text transform="translate(330.56,445.8) scale(1.035,1)" font-size="10.2" text-anchor="middle" fill="#000" stroke="#000" stroke-width="0.2">O</text><text transform="translate(339.82,445.8) scale(1.035,1)" font-size="10.2" text-anchor="middle" fill="#000" stroke="#000" stroke-width="0.2">N</text></g>
<g><path d="M382.85 310.70V430.20" stroke="#8c8c8c" stroke-width="1" fill="none"/><path d="M379.65 310.70H382.85" stroke="#8c8c8c" stroke-width="1"/><text transform="translate(372.8,314.1) scale(1.03,1)" font-size="11.2" text-anchor="end" fill="#000" stroke="#000" stroke-width="0.3">0.6</text><path d="M379.65 340.60H382.85" stroke="#8c8c8c" stroke-width="1"/><text transform="translate(372.8,344.0) scale(1.03,1)" font-size="11.2" text-anchor="end" fill="#000" stroke="#000" stroke-width="0.3">0.4</text><path d="M379.65 370.40H382.85" stroke="#8c8c8c" stroke-width="1"/><text transform="translate(372.8,373.8) scale(1.03,1)" font-size="11.2" text-anchor="end" fill="#000" stroke="#000" stroke-width="0.3">0.2</text><path d="M379.65 400.40H382.85" stroke="#8c8c8c" stroke-width="1"/><text transform="translate(372.8,403.8) scale(1.03,1)" font-size="11.2" text-anchor="end" fill="#000" stroke="#000" stroke-width="0.3">0.0</text><path d="M379.65 430.20H382.85" stroke="#8c8c8c" stroke-width="1"/><text transform="translate(372.8,433.6) scale(1.03,1)" font-size="11.2" text-anchor="end" fill="#000" stroke="#000" stroke-width="0.3">-0.2</text><rect x="385.68" y="371.55" width="3.60" height="28.25" fill="#fff" stroke="#aaaaaa" stroke-width="1"/><rect x="394.94" y="400.80" width="3.60" height="0.30" fill="#fff" stroke="#aaaaaa" stroke-width="1"/><rect x="403.69" y="347.05" width="4.60" height="53.25" fill="#a3a3a3"/><rect x="412.95" y="352.00" width="4.60" height="48.30" fill="#a3a3a3"/><rect x="422.71" y="390.90" width="3.60" height="8.90" fill="#fff" stroke="#aaaaaa" stroke-width="1"/><rect x="431.96" y="392.85" width="3.60" height="6.95" fill="#fff" stroke="#aaaaaa" stroke-width="1"/><rect x="441.22" y="380.85" width="3.60" height="18.95" fill="#fff" stroke="#aaaaaa" stroke-width="1"/><rect x="450.48" y="389.25" width="3.60" height="10.55" fill="#fff" stroke="#aaaaaa" stroke-width="1"/><rect x="459.73" y="396.00" width="3.60" height="3.80" fill="#fff" stroke="#aaaaaa" stroke-width="1"/><rect x="468.99" y="392.70" width="3.60" height="7.10" fill="#fff" stroke="#aaaaaa" stroke-width="1"/><rect x="478.25" y="400.80" width="3.60" height="17.00" fill="#fff" stroke="#aaaaaa" stroke-width="1"/><rect x="487.51" y="364.20" width="3.60" height="35.60" fill="#fff" stroke="#aaaaaa" stroke-width="1"/><rect x="496.76" y="381.90" width="3.60" height="17.90" fill="#fff" stroke="#aaaaaa" stroke-width="1"/><rect x="506.02" y="392.70" width="3.60" height="7.10" fill="#fff" stroke="#aaaaaa" stroke-width="1"/><path d="M382.85 400.40H512.45" stroke="#8c8c8c" stroke-width="1"/><path d="M392.11 400.40V403.20" stroke="#8c8c8c" stroke-width="1"/><path d="M401.36 400.40V403.20" stroke="#8c8c8c" stroke-width="1"/><path d="M410.62 400.40V403.20" stroke="#8c8c8c" stroke-width="1"/><path d="M419.88 400.40V403.20" stroke="#8c8c8c" stroke-width="1"/><path d="M429.13 400.40V403.20" stroke="#8c8c8c" stroke-width="1"/><path d="M438.39 400.40V403.20" stroke="#8c8c8c" stroke-width="1"/><path d="M447.65 400.40V403.20" stroke="#8c8c8c" stroke-width="1"/><path d="M456.91 400.40V403.20" stroke="#8c8c8c" stroke-width="1"/><path d="M466.16 400.40V403.20" stroke="#8c8c8c" stroke-width="1"/><path d="M475.42 400.40V403.20" stroke="#8c8c8c" stroke-width="1"/><path d="M484.68 400.40V403.20" stroke="#8c8c8c" stroke-width="1"/><path d="M493.93 400.40V403.20" stroke="#8c8c8c" stroke-width="1"/><path d="M503.19 400.40V403.20" stroke="#8c8c8c" stroke-width="1"/><path d="M512.45 400.40V403.20" stroke="#8c8c8c" stroke-width="1"/><polyline points="387.48,390.10 396.74,412.00 405.99,369.25 415.25,367.00 424.51,404.35 433.76,401.20 443.02,397.30 452.28,400.00 461.53,398.05 470.79,403.45 480.05,412.90 489.31,380.35 498.56,386.50 507.82,400.00" fill="none" stroke="#262626" stroke-width="1.0" stroke-linejoin="round"/><circle cx="415.25" cy="367.00" r="2.75" fill="#000"/><text transform="translate(387.48,445.8) scale(1.035,1)" font-size="10.2" text-anchor="middle" fill="#000" stroke="#000" stroke-width="0.2">O</text><text transform="translate(396.74,445.8) scale(1.035,1)" font-size="10.2" text-anchor="middle" fill="#000" stroke="#000" stroke-width="0.2">N</text><text transform="translate(405.99,445.8) scale(1.035,1)" font-size="10.2" text-anchor="middle" fill="#000" stroke="#000" stroke-width="0.2">D</text><text transform="translate(415.25,445.8) scale(1.035,1)" font-size="10.2" text-anchor="middle" fill="#000" stroke="#000" stroke-width="0.2">J</text><text transform="translate(424.51,445.8) scale(1.035,1)" font-size="10.2" text-anchor="middle" fill="#000" stroke="#000" stroke-width="0.2">F</text><text transform="translate(433.76,445.8) scale(1.035,1)" font-size="10.2" text-anchor="middle" fill="#000" stroke="#000" stroke-width="0.2">M</text><text transform="translate(443.02,445.8) scale(1.035,1)" font-size="10.2" text-anchor="middle" fill="#000" stroke="#000" stroke-width="0.2">A</text><text transform="translate(452.28,445.8) scale(1.035,1)" font-size="10.2" text-anchor="middle" fill="#000" stroke="#000" stroke-width="0.2">M</text><text transform="translate(461.53,445.8) scale(1.035,1)" font-size="10.2" text-anchor="middle" fill="#000" stroke="#000" stroke-width="0.2">J</text><text transform="translate(470.79,445.8) scale(1.035,1)" font-size="10.2" text-anchor="middle" fill="#000" stroke="#000" stroke-width="0.2">J</text><text transform="translate(480.05,445.8) scale(1.035,1)" font-size="10.2" text-anchor="middle" fill="#000" stroke="#000" stroke-width="0.2">A</text><text transform="translate(489.31,445.8) scale(1.035,1)" font-size="10.2" text-anchor="middle" fill="#000" stroke="#000" stroke-width="0.2">S</text><text transform="translate(498.56,445.8) scale(1.035,1)" font-size="10.2" text-anchor="middle" fill="#000" stroke="#000" stroke-width="0.2">O</text><text transform="translate(507.82,445.8) scale(1.035,1)" font-size="10.2" text-anchor="middle" fill="#000" stroke="#000" stroke-width="0.2">N</text></g>
<path d="M15.5 12V451" stroke="#939393" stroke-width="1"/>
<path d="M183.4 11.5V451" stroke="#939393" stroke-width="1"/>
<path d="M351.3 11.5V451" stroke="#939393" stroke-width="1"/>
<path d="M15 12.3H183.4" stroke="#a0a0a0" stroke-width="1.2"/>
<path d="M183.4 11.95H520" stroke="#b0b0b0" stroke-width="1.5"/>
<path d="M15 157.9H520" stroke="#939393" stroke-width="1"/>
<path d="M15 304.1H520" stroke="#939393" stroke-width="1"/>
<path d="M519.5 12V451" stroke="#3a3a3a" stroke-width="1"/>
<path d="M15 450.5H520" stroke="#3a3a3a" stroke-width="1"/>
</svg></body></html>
